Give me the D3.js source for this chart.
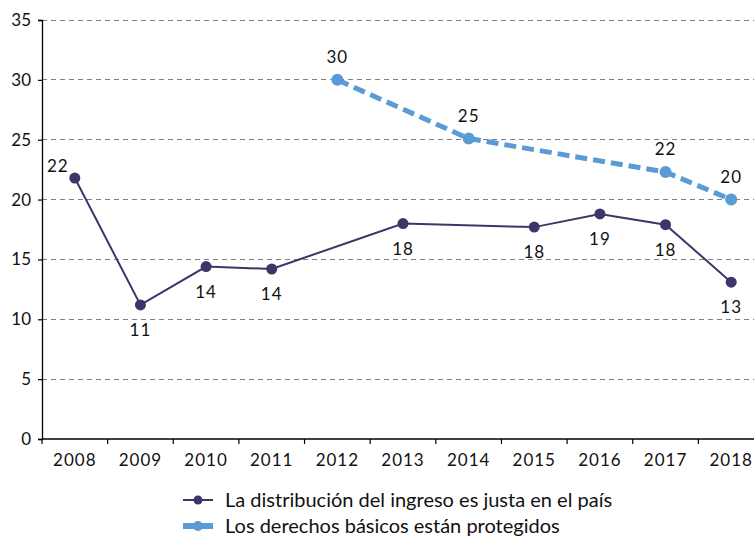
<!DOCTYPE html>
<html>
<head>
<meta charset="utf-8">
<script src="https://cdn.jsdelivr.net/npm/d3@7"></script>
<style>
  html, body { margin: 0; padding: 0; background: #fff; }
  svg { display: block; font-family: Lato, "Open Sans", sans-serif; }
</style>
</head>
<body>
<svg id="chart" width="754" height="536"></svg>
<script>
// Categories and series
const years = ["2008", "2009", "2010", "2011", "2012", "2013", "2014", "2015", "2016", "2017", "2018"];
const yTicks = [0, 5, 10, 15, 20, 25, 30, 35];

const ingresoYears = ["2008", "2009", "2010", "2011", "2013", "2015", "2016", "2017", "2018"];
const ingresoValues = [21.8, 11.2, 14.4, 14.2, 18.0, 17.7, 18.8, 17.9, 13.1];

const derechosYears = ["2012", "2014", "2017", "2018"];
const derechosValues = [30.0, 25.1, 22.3, 20.0];

const seriesNames = [
  "La distribución del ingreso es justa en el país",
  "Los derechos básicos están protegidos"
];

const svg = d3.select("#chart");
const W = 754, H = 536;
const m = { left: 42, top: 20, bottom: 97 };
const plotRight = 764;

const x = d3.scaleBand().domain(years).range([m.left, plotRight]);
const y = d3.scaleLinear().domain([0, 35]).range([H - m.bottom, m.top]);
const cx = d => x(d) + x.bandwidth() / 2;
const fmt = d3.format(".0f");

const ingreso = ingresoYears.map((yr, i) => ({ yr, v: ingresoValues[i] }));
const derechos = derechosYears.map((yr, i) => ({ yr, v: derechosValues[i] }));

// Horizontal grid lines
svg.append("g")
  .selectAll("line")
  .data(yTicks.filter(t => t > 0))
  .join("line")
  .attr("x1", m.left).attr("x2", W)
  .attr("y1", d => y(d)).attr("y2", d => y(d))
  .attr("stroke", "#7f7f7f")
  .attr("stroke-width", 1)
  .attr("stroke-dasharray", "5,4")
  .attr("shape-rendering", "crispEdges");

// Y axis
const yAxis = svg.append("g")
  .attr("transform", `translate(${m.left},0)`)
  .call(d3.axisLeft(y).tickValues(yTicks).tickSize(4).tickPadding(7).tickFormat(d3.format("d")));
yAxis.select(".domain").attr("stroke", "#000").attr("stroke-width", 1.3);
yAxis.selectAll(".tick line").attr("stroke", "#000").attr("stroke-width", 1.2);
yAxis.selectAll("text").attr("font-size", 17).attr("fill", "#111").style("font-family", "Lato, sans-serif");

// X axis with ticks between categories
const xAxisG = svg.append("g").attr("transform", `translate(0,${y(0)})`);
xAxisG.append("line")
  .attr("x1", m.left).attr("x2", W)
  .attr("y1", 0).attr("y2", 0)
  .attr("stroke", "#000").attr("stroke-width", 1.3);
xAxisG.selectAll("line.tk")
  .data(years)
  .join("line")
  .attr("class", "tk")
  .attr("x1", d => x(d)).attr("x2", d => x(d))
  .attr("y1", 0).attr("y2", 5)
  .attr("stroke", "#000").attr("stroke-width", 1.2);
xAxisG.selectAll("text")
  .data(years)
  .join("text")
  .attr("x", d => cx(d))
  .attr("y", 27)
  .attr("text-anchor", "middle")
  .attr("font-size", 17)
  .attr("letter-spacing", 1)
  .attr("fill", "#111")
  .text(d => d);

// Series 1: solid line
const line = d3.line().x(d => cx(d.yr)).y(d => y(d.v));
svg.append("path")
  .datum(ingreso)
  .attr("d", line)
  .attr("fill", "none")
  .attr("stroke", "#3b3769")
  .attr("stroke-width", 2);
svg.append("g").selectAll("circle")
  .data(ingreso)
  .join("circle")
  .attr("cx", d => cx(d.yr)).attr("cy", d => y(d.v))
  .attr("r", 5.5)
  .attr("fill", "#3b3769");

// Series 2: dashed line
svg.append("path")
  .datum(derechos)
  .attr("d", line)
  .attr("fill", "none")
  .attr("stroke", "#5b9bd5")
  .attr("stroke-width", 5)
  .attr("stroke-dasharray", "12,6");
svg.append("g").selectAll("circle")
  .data(derechos)
  .join("circle")
  .attr("cx", d => cx(d.yr)).attr("cy", d => y(d.v))
  .attr("r", 6)
  .attr("fill", "#5b9bd5");

// Data labels
const labelG = svg.append("g")
  .attr("font-size", 17)
  .attr("fill", "#111")
  .attr("text-anchor", "middle")
  .attr("letter-spacing", 1);
labelG.selectAll("text.s1")
  .data(ingreso)
  .join("text")
  .attr("class", "s1")
  .attr("x", d => d.yr === "2008" ? cx(d.yr) - 17 : cx(d.yr))
  .attr("y", d => d.yr === "2008" ? y(d.v) - 6 : y(d.v) + 31)
  .text(d => fmt(d.v));
labelG.selectAll("text.s2")
  .data(derechos)
  .join("text")
  .attr("class", "s2")
  .attr("x", d => cx(d.yr))
  .attr("y", d => y(d.v) - 17)
  .text(d => fmt(d.v));

// Legend
const legend = svg.append("g").attr("transform", "translate(183,500)");
const items = [
  { name: seriesNames[0], color: "#3b3769", w: 2, r: 4.5 },
  { name: seriesNames[1], color: "#5b9bd5", w: 6, r: 5 }
];
items.forEach((it, i) => {
  const g = legend.append("g").attr("transform", `translate(0,${i * 26})`);
  g.append("line")
    .attr("x1", 0).attr("x2", 30)
    .attr("stroke", it.color).attr("stroke-width", it.w);
  g.append("circle").attr("cx", 15).attr("r", it.r).attr("fill", it.color);
  g.append("text")
    .attr("x", 42).attr("y", 7)
    .attr("font-size", 20)
    .attr("fill", "#111")
    .text(it.name);
});
</script>
</body>
</html>
